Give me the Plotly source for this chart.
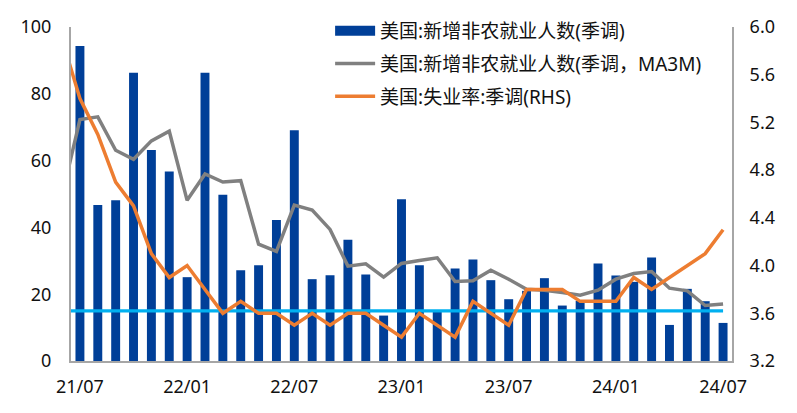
import plotly.graph_objects as go

# months for lines (include 21/06 which is clipped at left edge)
months = ["21/06", "21/07", "21/08", "21/09", "21/10", "21/11", "21/12",
          "22/01", "22/02", "22/03", "22/04", "22/05", "22/06",
          "22/07", "22/08", "22/09", "22/10", "22/11", "22/12",
          "23/01", "23/02", "23/03", "23/04", "23/05", "23/06",
          "23/07", "23/08", "23/09", "23/10", "23/11", "23/12",
          "24/01", "24/02", "24/03", "24/04", "24/05", "24/06", "24/07"]
bar_months = months[1:]

nfp = [94.3, 46.7, 48.1, 86.3, 63.2, 56.7,
       25.1, 86.3, 49.8, 27.2, 28.7, 42.2,
       69.1, 24.5, 25.7, 36.3, 25.9, 13.6,
       48.4, 28.7, 14.9, 27.7, 30.4, 24.2,
       18.5, 21.0, 24.8, 16.6, 18.0, 29.2,
       25.6, 23.7, 31.0, 10.8, 21.6, 17.9,
       11.4]

nfp_ma3m = [49.5, 72.3, 73.1, 63.1, 60.4, 65.9, 68.8,
            48.1, 56.0, 53.6, 54.0, 35.0, 32.8,
            46.7, 45.2, 39.4, 28.4, 29.1, 25.1,
            29.2, 30.1, 30.9, 23.8, 24.0, 27.2,
            24.5, 21.5, 21.2, 20.5, 19.7, 21.2,
            24.5, 26.2, 26.8, 21.8, 21.0, 16.6, 17.1]

unemp = [5.9, 5.4, 5.1, 4.7, 4.5, 4.1, 3.9,
         4.0, 3.8, 3.6, 3.7, 3.6, 3.6,
         3.5, 3.6, 3.5, 3.6, 3.6, 3.5,
         3.4, 3.6, 3.5, 3.4, 3.7, 3.6,
         3.5, 3.8, 3.8, 3.8, 3.7, 3.7,
         3.7, 3.9, 3.8, 3.9, 4.0, 4.1, 4.3]

benchmark = 15
tick_labels = ["21/07", "22/01", "22/07", "23/01", "23/07", "24/01", "24/07"]

BLUE = "#003f98"
GREY = "#808080"
ORANGE = "#ed7d31"
CYAN = "#00b0f0"
FONT = "Noto Sans, Noto Sans CJK SC, sans-serif"

fig = go.Figure()
fig.add_trace(go.Bar(x=bar_months, y=nfp, marker_color=BLUE, marker_line_width=0,
                     name="美国:新增非农就业人数(季调)", showlegend=False))
# legend proxy for the bar series (wide rectangle swatch)
fig.add_trace(go.Scatter(x=[None], y=[None], mode="lines", line=dict(color=BLUE, width=13),
                         name="美国:新增非农就业人数(季调)", legendgroup="a"))
fig.add_trace(go.Scatter(x=[months[0], months[-1]], y=[benchmark, benchmark], mode="lines",
                         line=dict(color=CYAN, width=3.2), showlegend=False, hoverinfo="skip"))
fig.add_trace(go.Scatter(x=months, y=nfp_ma3m, mode="lines", line=dict(color=GREY, width=3.5),
                         name="美国:新增非农就业人数(季调，MA3M)", legendgroup="b"))
fig.add_trace(go.Scatter(x=months, y=unemp, mode="lines", line=dict(color=ORANGE, width=3.5),
                         name="美国:失业率:季调(RHS)", yaxis="y2", legendgroup="c"))

fig.update_layout(
    width=797, height=413,
    margin=dict(l=71, r=65, t=23, b=52),
    plot_bgcolor="white", paper_bgcolor="white",
    font=dict(family=FONT, size=18, color="#111111"),
    bargap=0.5,
    xaxis=dict(type="category", categoryorder="array", categoryarray=months,
               range=[0.5, 37.5], tickmode="array", tickvals=tick_labels, ticktext=tick_labels,
               showline=True, linecolor="#a6a6a6", linewidth=2, ticks="", showgrid=False,
               tickfont=dict(size=18), ticklabelstandoff=8),
    yaxis=dict(range=[0, 100], dtick=20, showline=True, linecolor="#a6a6a6", linewidth=2,
               showgrid=False, zeroline=False, ticks="", ticklabelstandoff=14,
               tickfont=dict(size=18)),
    yaxis2=dict(range=[3.2, 6.0], dtick=0.4, tickformat=".1f", overlaying="y", side="right",
                showline=True, linecolor="#a6a6a6", linewidth=2, showgrid=False, zeroline=False,
                ticks="", ticklabelstandoff=12, tickfont=dict(size=18)),
    legend=dict(x=0.392, y=1.045, xanchor="left", yanchor="top", bgcolor="rgba(0,0,0,0)",
                font=dict(size=19), tracegroupgap=5, itemwidth=40),
)

fig.write_html("out.html")
